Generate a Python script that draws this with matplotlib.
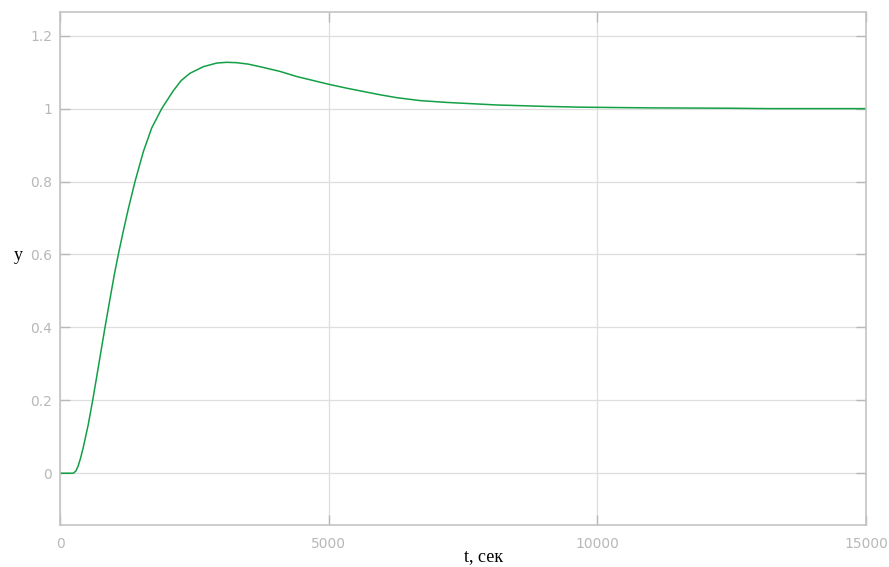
import matplotlib

matplotlib.use("Agg")
import matplotlib.pyplot as plt  # noqa: E402

# step response (t in seconds, y dimensionless)
t_sec = [0, 242, 290, 335, 380, 428, 521, 603, 677, 752, 832, 925, 1006,
         1087, 1170, 1266, 1391, 1546, 1702, 1888, 2104, 2250, 2415, 2663,
         2912, 3100, 3285, 3500, 3719, 4091, 4402, 4991, 5333, 5642, 5953,
         6264, 6698, 7195, 8126, 9058, 9678, 11000, 12500, 13200, 15000]
y_resp = [0.0, 0.0, 0.006, 0.021, 0.043, 0.071, 0.134, 0.2, 0.264, 0.330,
          0.400, 0.478, 0.545, 0.605, 0.662, 0.725, 0.800, 0.882, 0.947,
          1.0, 1.049, 1.077, 1.097, 1.115, 1.125, 1.127, 1.126, 1.122,
          1.115, 1.102, 1.088, 1.067, 1.056, 1.047, 1.038, 1.030, 1.022,
          1.017, 1.010, 1.006, 1.004, 1.002, 1.001, 1.0, 1.0]

x_ticks = [0, 5000, 10000, 15000]
y_ticks = [0, 0.2, 0.4, 0.6, 0.8, 1.0, 1.2]
y_tick_labels = ["0", "0.2", "0.4", "0.6", "0.8", "1", "1.2"]

GRID = "#dedede"
SPINE = "#c4c4c4"
TICKTXT = "#b8b8b8"

fig = plt.figure(figsize=(8.89, 5.67), dpi=100)
ax = fig.add_axes([60.3 / 889, 1 - 525 / 567, (866 - 60.3) / 889, (525 - 12) / 567])

ax.plot(t_sec, y_resp, color="#12a046", lw=1.1)

ax.set_xlim(0, 15000)
ax.set_ylim(-0.142, 1.265)
ax.set_xticks(x_ticks)
ax.set_yticks(y_ticks)
ax.set_yticklabels(y_tick_labels)

ax.grid(True, color=GRID, lw=0.9)
ax.set_axisbelow(True)
for s in ax.spines.values():
    s.set_color(SPINE)
    s.set_linewidth(1.2)
ax.tick_params(direction="in", length=7, width=1, color="#b8b8b8",
               top=True, right=True, labelcolor=TICKTXT, labelsize=10)
ax.tick_params(axis="x", pad=9)
ax.tick_params(axis="y", pad=6)

fig.text(18 / 889, 1 - 255 / 567, "y", family="Liberation Serif",
         fontsize=13, ha="center", va="center", color="black")
fig.text(484 / 889, 1 - 557 / 567, "t, сек", family="Liberation Serif",
         fontsize=13, ha="center", va="center", color="black")

fig.savefig("out.png", dpi=100, facecolor="white")
